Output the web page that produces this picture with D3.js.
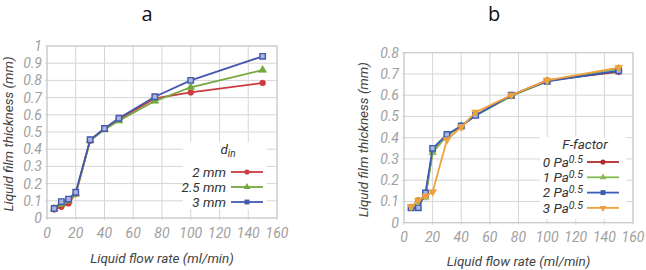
<!DOCTYPE html>
<html>
<head>
<meta charset="utf-8">
<script src="https://cdn.jsdelivr.net/npm/d3@7"></script>
<style>
  body { margin: 0; background: #fff; }
  svg { display: block; }
  .tick-label { font-family: Roboto, sans-serif; font-style: italic; font-size: 14px; fill: #a0a0a0; }
  .axis-title { font-family: Roboto, sans-serif; font-style: italic; font-size: 13.5px; fill: #444; }
  .legend-text { font-family: Roboto, sans-serif; font-style: italic; font-size: 13.5px; fill: #333; }
  .panel-title { font-family: "Open Sans", sans-serif; font-size: 20px; fill: #111; }
</style>
</head>
<body>
<div id="wrapper"></div>
<script>
// 1. Data

// liquid flow rate (ml/min), shared by both panels
const flowRates = [5, 10, 15, 20, 30, 40, 50, 75, 100, 150]

// panel a: inner diameter d_in
const dinLabels = ["2 mm", "2.5 mm", "3 mm"]
const din2mm = [0.05, 0.065, 0.085, 0.14, 0.45, 0.52, 0.575, 0.695, 0.73, 0.785]
const din25mm = [0.055, 0.08, 0.10, 0.14, 0.45, 0.515, 0.565, 0.68, 0.76, 0.86]
const din3mm = [0.055, 0.095, 0.11, 0.15, 0.455, 0.52, 0.58, 0.705, 0.80, 0.94]

// panel b: F-factor (Pa^0.5)
const fLabels = ["0", "1", "2", "3"]
const f0 = [0.07, 0.105, 0.125, 0.335, 0.41, 0.455, 0.505, 0.60, 0.67, 0.71]
const f1 = [0.07, 0.10, 0.12, 0.33, 0.41, 0.455, 0.505, 0.595, 0.665, 0.725]
const f2 = [0.07, 0.07, 0.14, 0.35, 0.415, 0.455, 0.505, 0.60, 0.665, 0.715]
const f3 = [0.075, 0.105, 0.125, 0.145, 0.39, 0.45, 0.52, 0.60, 0.67, 0.73]

const xTicks = [0, 20, 40, 60, 80, 100, 120, 140, 160]
const yTicksA = [0, 0.1, 0.2, 0.3, 0.4, 0.5, 0.6, 0.7, 0.8, 0.9, 1]
const yTicksB = [0, 0.1, 0.2, 0.3, 0.4, 0.5, 0.6, 0.7, 0.8]

// 2. Canvas

const wrapper = d3.select("#wrapper")
  .append("svg")
    .attr("width", 646)
    .attr("height", 270)

const symbolFor = {
  circle: d3.symbolCircle,
  triangle: d3.symbolTriangle,
  square: d3.symbolSquare,
  down: d3.symbolTriangle,
}

function drawPanel(p) {
  const xScale = d3.scaleLinear()
    .domain([0, 160])
    .range([p.left, p.right])
  const yScale = d3.scaleLinear()
    .domain([0, p.yMax])
    .range([p.bottom, p.top])

  const g = wrapper.append("g")

  // grid
  g.append("g").selectAll("line")
    .data(p.yTicks)
    .enter().append("line")
      .attr("x1", p.left - 2)
      .attr("x2", p.right)
      .attr("y1", d => yScale(d))
      .attr("y2", d => yScale(d))
      .attr("stroke", "#d6d6d6")
      .attr("stroke-width", 1)
  g.append("g").selectAll("line")
    .data(xTicks)
    .enter().append("line")
      .attr("x1", d => xScale(d))
      .attr("x2", d => xScale(d))
      .attr("y1", p.top)
      .attr("y2", p.bottom + 2)
      .attr("stroke", "#d6d6d6")
      .attr("stroke-width", 1)

  // legend box hides the grid behind it
  g.append("rect")
    .attr("x", p.legend.box[0])
    .attr("y", p.legend.box[1])
    .attr("width", p.legend.box[2])
    .attr("height", p.legend.box[3])
    .attr("fill", "#fff")

  // frame
  g.append("rect")
    .attr("x", p.left)
    .attr("y", p.top)
    .attr("width", p.right - p.left)
    .attr("height", p.bottom - p.top)
    .attr("fill", "none")
    .attr("stroke", "#c8c8c8")

  // tick labels
  g.append("g").selectAll("text")
    .data(p.yTicks)
    .enter().append("text")
      .attr("class", "tick-label")
      .attr("x", p.left - 5)
      .attr("y", d => yScale(d))
      .attr("dy", "0.35em")
      .attr("text-anchor", "end")
      .text(d => d)
  g.append("g").selectAll("text")
    .data(xTicks)
    .enter().append("text")
      .attr("class", "tick-label")
      .attr("x", d => xScale(d))
      .attr("y", p.xTickY)
      .attr("dy", "0.35em")
      .attr("text-anchor", "middle")
      .text(d => d)

  // axis titles
  g.append("text")
    .attr("class", "axis-title")
    .attr("text-anchor", "middle")
    .attr("dy", "0.35em")
    .attr("transform", `translate(${p.yTitleX}, ${(p.top + p.bottom) / 2 + 2}) rotate(-90)`)
    .text("Liquid film thickness (mm)")
  g.append("text")
    .attr("class", "axis-title")
    .attr("text-anchor", "middle")
    .attr("x", (p.left + p.right) / 2)
    .attr("y", p.xTitleY)
    .attr("dy", "0.35em")
    .text("Liquid flow rate (ml/min)")

  // panel letter
  g.append("text")
    .attr("class", "panel-title")
    .attr("x", p.letterX)
    .attr("y", 21)
    .attr("text-anchor", "middle")
    .text(p.letter)

  // lines + markers
  const lineGenerator = d3.line()
    .x((d, i) => xScale(flowRates[i]))
    .y(d => yScale(d))

  p.series.forEach(s => {
    g.append("path")
      .attr("d", lineGenerator(s.values))
      .attr("fill", "none")
      .attr("stroke", s.color)
      .attr("stroke-width", 1.8)
    g.append("g").selectAll("path")
      .data(s.values)
      .enter().append("path")
        .attr("d", d3.symbol(symbolFor[s.marker], s.size))
        .attr("transform", (d, i) => `translate(${xScale(flowRates[i])}, ${yScale(d)})${s.marker == "down" ? " rotate(180)" : ""}`)
        .attr("fill", s.hollow ? "#a9b6e0" : s.color)
        .attr("stroke", s.color)
        .attr("stroke-width", s.hollow ? 1.4 : 0.6)
  })

  // legend
  const lg = p.legend
  const title = g.append("text")
    .attr("class", "legend-text")
    .attr("x", lg.titleX)
    .attr("y", lg.titleY)
    .attr("text-anchor", "middle")
  lg.title(title)

  p.series.forEach((s, i) => {
    const y = lg.rowY + i * lg.rowStep
    const label = g.append("text")
      .attr("class", "legend-text")
      .attr("x", lg.textRight)
      .attr("y", y)
      .attr("dy", "0.35em")
      .attr("text-anchor", "end")
    lg.label(label, s.label)
    g.append("line")
      .attr("x1", lg.lineX[0])
      .attr("x2", lg.lineX[1])
      .attr("y1", y)
      .attr("y2", y)
      .attr("stroke", s.color)
      .attr("stroke-width", 1.8)
    g.append("path")
      .attr("d", d3.symbol(symbolFor[s.marker], s.size * 0.8))
      .attr("transform", `translate(${(lg.lineX[0] + lg.lineX[1]) / 2}, ${y})${s.marker == "down" ? " rotate(180)" : ""}`)
      .attr("fill", s.color)
  })
}

// 3. Panels

drawPanel({
  letter: "a",
  letterX: 147,
  left: 47, right: 277, top: 46, bottom: 218,
  yMax: 1,
  yTicks: yTicksA,
  xTickY: 233,
  xTitleY: 258,
  yTitleX: 8,
  series: [
    { label: dinLabels[0], values: din2mm, color: "#cc3b3f", marker: "circle", size: 26 },
    { label: dinLabels[1], values: din25mm, color: "#74a83d", marker: "triangle", size: 26 },
    { label: dinLabels[2], values: din3mm, color: "#4558b0", marker: "square", size: 30, hollow: true },
  ],
  legend: {
    box: [183, 142, 84, 67],
    titleX: 228, titleY: 154,
    title: t => {
      t.append("tspan").text("d")
      t.append("tspan").attr("font-size", "10px").attr("dy", "3").text("in")
    },
    rowY: 172, rowStep: 15,
    textRight: 226,
    lineX: [231, 263],
    label: (t, text) => t.text(text),
  },
})

drawPanel({
  letter: "b",
  letterX: 494,
  left: 404, right: 633, top: 52.7, bottom: 222.7,
  yMax: 0.8,
  yTicks: yTicksB,
  xTickY: 237.5,
  xTitleY: 261,
  yTitleX: 363,
  series: [
    { label: fLabels[0], values: f0, color: "#b52a30", marker: "circle", size: 26 },
    { label: fLabels[1], values: f1, color: "#86b954", marker: "triangle", size: 24 },
    { label: fLabels[2], values: f2, color: "#3a5cb3", marker: "square", size: 30, hollow: true },
    { label: fLabels[3], values: f3, color: "#f0a23a", marker: "down", size: 26 },
  ],
  legend: {
    box: [540, 137, 86, 82],
    titleX: 585, titleY: 149,
    title: t => t.text("F-factor"),
    rowY: 162, rowStep: 15.3,
    textRight: 583,
    lineX: [587, 619],
    label: (t, text) => {
      t.append("tspan").text(text + " Pa")
      t.append("tspan").attr("font-size", "10.5px").attr("dy", "-4").text("0.5")
    },
  },
})
</script>
</body>
</html>
